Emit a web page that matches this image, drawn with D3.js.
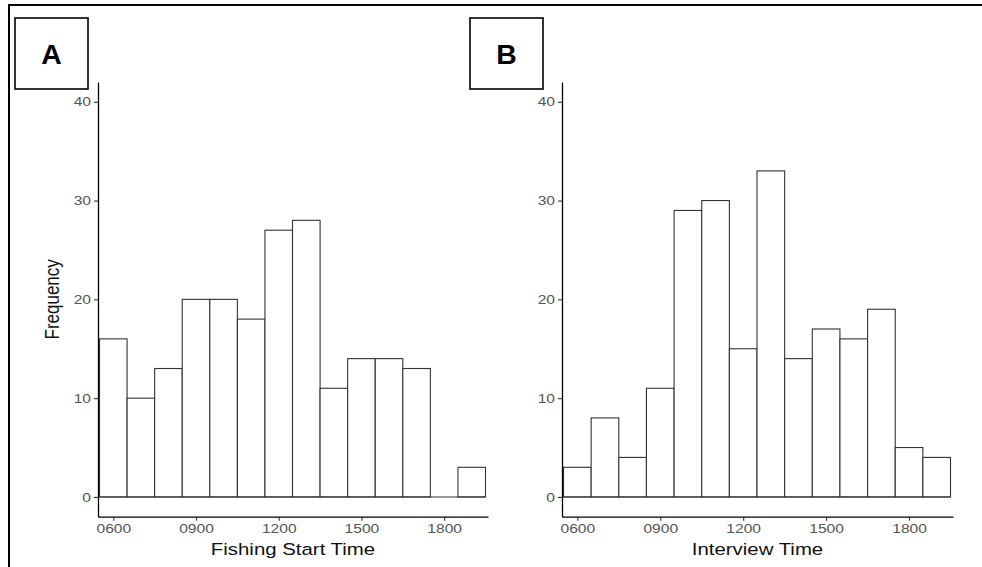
<!DOCTYPE html>
<html>
<head>
<meta charset="utf-8">
<script src="https://cdn.jsdelivr.net/npm/d3@7"></script>
<style>
  body { margin: 0; background: #fff; }
  svg { display: block; font-family: "Liberation Sans", Arial, sans-serif; }
</style>
</head>
<body>
<svg id="chart" width="982" height="567"></svg>
<script>
// Data: bins centred on each hour (6 = 0600 ... 19 = 1900)
const hours = [6, 7, 8, 9, 10, 11, 12, 13, 14, 15, 16, 17, 18, 19];
const fishingStart = [16, 10, 13, 20, 20, 18, 27, 28, 11, 14, 14, 13, 0, 3];
const interviewTime = [3, 8, 4, 11, 29, 30, 15, 33, 14, 17, 16, 19, 5, 4];
const xTickValues = [6, 9, 12, 15, 18];
const xTickLabels = ["0600", "0900", "1200", "1500", "1800"];
const yTickValues = [0, 10, 20, 30, 40];
const panelLabels = ["A", "B"];
const xTitles = ["Fishing Start Time", "Interview Time"];
const yTitle = "Frequency";

const svg = d3.select("#chart");
const SX = 1.2; // horizontal stretch of the original image text

// outer frame (left and top)
svg.append("line").attr("x1", 9).attr("x2", 9).attr("y1", 4).attr("y2", 567)
  .attr("stroke", "#000").attr("stroke-width", 2);
svg.append("line").attr("x1", 8).attr("x2", 982).attr("y1", 5).attr("y2", 5)
  .attr("stroke", "#000").attr("stroke-width", 2);

const panels = [
  { left: 98, right: 488, values: fishingStart, label: panelLabels[0], box: [15, 18], title: xTitles[0], yTitle: true },
  { left: 562, right: 953, values: interviewTime, label: panelLabels[1], box: [470, 18], title: xTitles[1], yTitle: false }
];

const plotTop = 82, plotBottom = 516.7;
const y = d3.scaleLinear().domain([-2, 42]).range([plotBottom, plotTop]);

panels.forEach(p => {
  const x = d3.scaleLinear().domain([5.445, 19.59]).range([p.left, p.right]);
  const g = svg.append("g");

  // bars
  g.selectAll("rect.bar").data(hours.map((h, i) => ({ h, v: p.values[i] })).filter(d => d.v > 0))
    .enter().append("rect")
    .attr("class", "bar")
    .attr("x", d => x(d.h - 0.5))
    .attr("width", d => x(d.h + 0.5) - x(d.h - 0.5))
    .attr("y", d => y(d.v))
    .attr("height", d => y(0) - y(d.v))
    .attr("fill", "#fff")
    .attr("stroke", "#333")
    .attr("stroke-width", 1.1);
  // baseline of zero across the bar range
  g.append("line")
    .attr("x1", x(hours[0] - 0.5)).attr("x2", x(hours[hours.length - 1] + 0.5))
    .attr("y1", y(0)).attr("y2", y(0))
    .attr("stroke", "#333").attr("stroke-width", 1.1);

  // y axis
  const yAxis = d3.axisLeft(y).tickValues(yTickValues).tickSize(4).tickSizeOuter(0).tickPadding(3);
  const ya = g.append("g").attr("transform", `translate(${p.left},0)`).call(yAxis);
  // x axis
  const xAxis = d3.axisBottom(x).tickValues(xTickValues).tickFormat((d, i) => xTickLabels[i])
    .tickSize(4).tickSizeOuter(0).tickPadding(3);
  const xa = g.append("g").attr("transform", `translate(0,${plotBottom})`).call(xAxis);

  [ya, xa].forEach(a => {
    a.select(".domain").attr("stroke", "#000").attr("stroke-width", 1.3);
    a.selectAll(".tick line").attr("stroke", "#333").attr("stroke-width", 1.1);
    a.selectAll(".tick text").attr("fill", "#555").attr("font-size", 13)
      .attr("font-family", "'Liberation Sans', Arial, sans-serif");
  });
  // stretch tick labels horizontally
  ya.selectAll(".tick text").each(function () {
    const t = d3.select(this);
    const xx = +t.attr("x");
    t.attr("x", null).attr("transform", `translate(${xx},0) scale(${SX},1)`);
  });
  xa.selectAll(".tick text").attr("transform", `scale(${SX},1)`);

  // x title
  g.append("text")
    .attr("transform", `translate(${(p.left + p.right) / 2},555) scale(${SX},1)`)
    .attr("text-anchor", "middle").attr("font-size", 17).attr("fill", "#111")
    .text(p.title);

  if (p.yTitle) {
    g.append("text")
      .attr("transform", `translate(59,${(plotTop + plotBottom) / 2}) scale(${SX},1) rotate(-90)`)
      .attr("text-anchor", "middle").attr("font-size", 17).attr("fill", "#111")
      .text(yTitle);
  }

  // panel label box
  g.append("rect").attr("x", p.box[0]).attr("y", p.box[1]).attr("width", 73).attr("height", 71)
    .attr("fill", "#fff").attr("stroke", "#000").attr("stroke-width", 1.6);
  g.append("text")
    .attr("transform", `translate(${p.box[0] + 36.5},${p.box[1] + 46}) scale(1.05,1)`)
    .attr("text-anchor", "middle").attr("font-size", 27).attr("font-weight", "bold").attr("fill", "#000")
    .attr("font-family", "'Liberation Sans', Arial, sans-serif")
    .text(p.label);
});
</script>
</body>
</html>
